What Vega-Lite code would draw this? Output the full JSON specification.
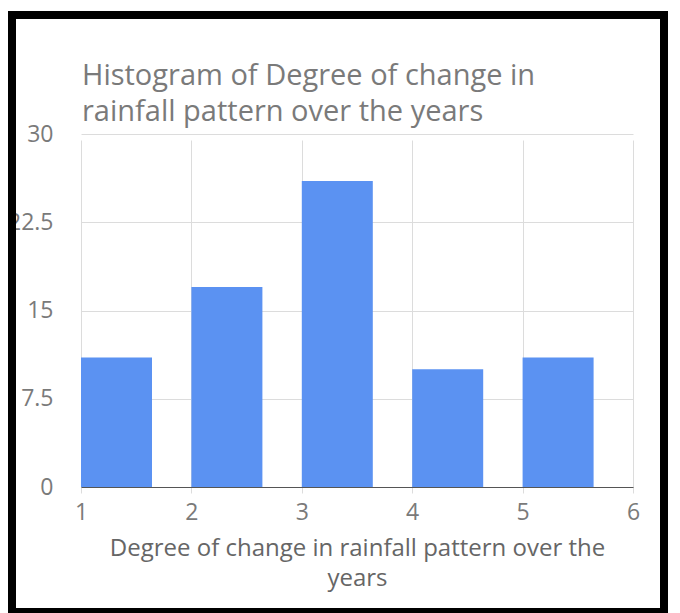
{
  "$schema": "https://vega.github.io/schema/vega-lite/v6.json",
  "width": 652,
  "height": 597,
  "autosize": {"type": "none"},
  "padding": {"left": 12, "top": 15, "right": 16, "bottom": 1},
  "background": "white",
  "data": {
    "values": [
      {"degree": 1, "count": 11},
      {"degree": 2, "count": 17},
      {"degree": 3, "count": 26},
      {"degree": 4, "count": 10},
      {"degree": 5, "count": 11}
    ]
  },
  "title": {
    "text": ["Histogram of Degree of change in", "rainfall pattern over the years"],
    "anchor": "start",
    "frame": "group",
    "font": "Open Sans",
    "fontSize": 29,
    "fontWeight": "normal",
    "color": "#7a7a7a",
    "lineHeight": 36,
    "dx": 70,
    "dy": 112,
    "offset": 0
  },
  "mark": {"type": "bar", "color": "#5b92f2", "width": 71, "xOffset": 35.5},
  "encoding": {
    "x": {
      "field": "degree",
      "type": "quantitative",
      "scale": {"domain": [1, 6], "range": [69, 621], "padding": 0},
      "axis": {
        "values": [1, 2, 3, 4, 5, 6],
        "format": "d",
        "offset": -125,
        "grid": true,
        "gridColor": "#dcdcdc",
        "domainColor": "#555555",
        "ticks": false,
        "labelFont": "Open Sans",
        "labelFontSize": 23,
        "labelColor": "#7a7a7a",
        "labelPadding": 14,
        "labelFlush": false,
        "title": ["Degree of change in rainfall pattern over the", "years"],
        "titleFont": "Open Sans",
        "titleFontSize": 24,
        "titleFontWeight": "normal",
        "titleColor": "#666666",
        "titleLineHeight": 30,
        "titlePadding": 12
      }
    },
    "y": {
      "field": "count",
      "type": "quantitative",
      "scale": {"domain": [0, 30], "range": [472, 119], "padding": 0},
      "axis": {
        "values": [0, 7.5, 15, 22.5, 30],
        "format": ".3~g",
        "offset": -69,
        "domain": false,
        "ticks": false,
        "grid": true,
        "gridColor": "#dcdcdc",
        "labelFont": "Open Sans",
        "labelFontSize": 23,
        "labelColor": "#7a7a7a",
        "labelPadding": 28,
        "title": null
      }
    }
  },
  "config": {
    "view": {"stroke": "#000000", "strokeWidth": 8, "clip": true, "strokeForeground": true},
    "style": {"cell": {"clip": true, "strokeForeground": true}}
  }
}
